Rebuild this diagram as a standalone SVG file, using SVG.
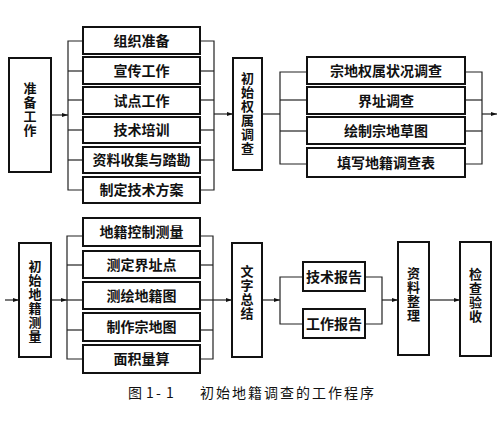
<svg xmlns="http://www.w3.org/2000/svg" width="503" height="426" viewBox="0 0 503 426">
<style>
.box{fill:#fff;stroke:#111;stroke-width:2}
.ln{fill:none;stroke:#222;stroke-width:1.2}
.t{font-family:"Noto Sans CJK SC","Noto Sans",sans-serif;font-size:14px;font-weight:bold;fill:#111;text-anchor:middle}
.v{font-family:"Noto Sans CJK SC","Noto Sans",sans-serif;font-size:13px;font-weight:bold;fill:#111;text-anchor:middle}
.cap{font-family:"Noto Sans CJK SC","Liberation Serif",serif;font-size:14px;fill:#111}
</style>
<defs>
<marker id="ah" viewBox="0 0 6 4" refX="6" refY="2" markerWidth="6" markerHeight="4" markerUnits="userSpaceOnUse" orient="auto">
<path d="M0,0 L6,2 L0,4 Z" fill="#111"/>
</marker>
</defs>
<rect width="503" height="426" fill="#fff"/>
<g id="connectors">
<line class="ln" x1="51" y1="115" x2="68" y2="115" marker-end="url(#ah)"/>
<polyline class="ln" points="83,41 68,41 68,190 83,190"/>
<line class="ln" x1="68" y1="71" x2="83" y2="71"/>
<line class="ln" x1="68" y1="100" x2="83" y2="100"/>
<line class="ln" x1="68" y1="130" x2="83" y2="130"/>
<line class="ln" x1="68" y1="160" x2="83" y2="160"/>
<polyline class="ln" points="200,41 214,41 214,190 200,190"/>
<line class="ln" x1="200" y1="71" x2="214" y2="71"/>
<line class="ln" x1="200" y1="100" x2="214" y2="100"/>
<line class="ln" x1="200" y1="130" x2="214" y2="130"/>
<line class="ln" x1="200" y1="160" x2="214" y2="160"/>
<line class="ln" x1="214" y1="114" x2="233" y2="114" marker-end="url(#ah)"/>
<line class="ln" x1="262" y1="114" x2="280" y2="114"/>
<polyline class="ln" points="307,72 280,72 280,164 307,164"/>
<line class="ln" x1="280" y1="100" x2="307" y2="100"/>
<line class="ln" x1="280" y1="131" x2="307" y2="131"/>
<polyline class="ln" points="465,72 482,72 482,164 465,164"/>
<line class="ln" x1="465" y1="100" x2="482" y2="100"/>
<line class="ln" x1="465" y1="131" x2="482" y2="131"/>
<line class="ln" x1="482" y1="114" x2="497" y2="114" marker-end="url(#ah)"/>
<line class="ln" x1="5" y1="300" x2="19" y2="300" marker-end="url(#ah)"/>
<line class="ln" x1="51" y1="300" x2="67" y2="300" marker-end="url(#ah)"/>
<polyline class="ln" points="83,236 67,236 67,359 83,359"/>
<line class="ln" x1="67" y1="265" x2="83" y2="265"/>
<line class="ln" x1="67" y1="300" x2="83" y2="300"/>
<line class="ln" x1="67" y1="330" x2="83" y2="330"/>
<polyline class="ln" points="200,236 213,236 213,359 200,359"/>
<line class="ln" x1="200" y1="265" x2="213" y2="265"/>
<line class="ln" x1="200" y1="300" x2="213" y2="300"/>
<line class="ln" x1="200" y1="330" x2="213" y2="330"/>
<line class="ln" x1="213" y1="300" x2="232" y2="300" marker-end="url(#ah)"/>
<line class="ln" x1="262" y1="300" x2="280" y2="300" marker-end="url(#ah)"/>
<polyline class="ln" points="303,277 280,277 280,324 303,324"/>
<polyline class="ln" points="365,277 382,277 382,324 365,324"/>
<line class="ln" x1="382" y1="300" x2="398" y2="300" marker-end="url(#ah)"/>
<line class="ln" x1="429" y1="300" x2="460" y2="300" marker-end="url(#ah)"/>
</g>
<g id="n-zhunbei"><rect class="box" x="9" y="58" width="42" height="114"/>
<text class="v" x="30" y="93"><tspan x="30">准</tspan><tspan x="30" dy="14">备</tspan><tspan x="30" dy="14">工</tspan><tspan x="30" dy="14">作</tspan></text></g>
<g id="n-zuzhi"><rect class="box" x="83" y="27" width="117" height="27"/><text class="t" x="141.5" y="45.5">组织准备</text></g>
<g id="n-xuanchuan"><rect class="box" x="83" y="57" width="117" height="27"/><text class="t" x="141.5" y="75.5">宣传工作</text></g>
<g id="n-shidian"><rect class="box" x="83" y="87" width="117" height="27"/><text class="t" x="141.5" y="105.5">试点工作</text></g>
<g id="n-peixun"><rect class="box" x="83" y="117" width="117" height="26"/><text class="t" x="141.5" y="135">技术培训</text></g>
<g id="n-ziliao"><rect class="box" x="83" y="147" width="117" height="26"/><text class="t" x="141.5" y="165">资料收集与踏勘</text></g>
<g id="n-fangan"><rect class="box" x="83" y="177" width="117" height="26"/><text class="t" x="141.5" y="195">制定技术方案</text></g>
<g id="n-quanshu"><rect class="box" x="233" y="58" width="29" height="112"/>
<text class="v" x="247.5" y="83"><tspan x="247.5">初</tspan><tspan x="247.5" dy="14">始</tspan><tspan x="247.5" dy="14">权</tspan><tspan x="247.5" dy="14">属</tspan><tspan x="247.5" dy="14">调</tspan><tspan x="247.5" dy="14">查</tspan></text></g>
<g id="n-zhuangkuang"><rect class="box" x="307" y="57" width="158" height="27"/><text class="t" x="386" y="75.5">宗地权属状况调查</text></g>
<g id="n-jiezhi"><rect class="box" x="307" y="87" width="158" height="27"/><text class="t" x="386" y="105.5">界址调查</text></g>
<g id="n-caotu"><rect class="box" x="307" y="117" width="158" height="27"/><text class="t" x="386" y="135.5">绘制宗地草图</text></g>
<g id="n-tianxie"><rect class="box" x="307" y="148" width="158" height="29"/><text class="t" x="386" y="167.5">填写地籍调查表</text></g>
<g id="n-celiang"><rect class="box" x="19" y="243" width="32" height="114"/>
<text class="v" x="35" y="271"><tspan x="35">初</tspan><tspan x="35" dy="14">始</tspan><tspan x="35" dy="14">地</tspan><tspan x="35" dy="14">籍</tspan><tspan x="35" dy="14">测</tspan><tspan x="35" dy="14">量</tspan></text></g>
<g id="n-kongzhi"><rect class="box" x="83" y="218" width="117" height="28"/><text class="t" x="141.5" y="237">地籍控制测量</text></g>
<g id="n-jiezhidian"><rect class="box" x="83" y="251" width="117" height="27"/><text class="t" x="141.5" y="269.5">测定界址点</text></g>
<g id="n-cehui"><rect class="box" x="83" y="282" width="117" height="27"/><text class="t" x="141.5" y="300.5">测绘地籍图</text></g>
<g id="n-zongditu"><rect class="box" x="83" y="313" width="117" height="28"/><text class="t" x="141.5" y="332">制作宗地图</text></g>
<g id="n-mianji"><rect class="box" x="83" y="345" width="117" height="28"/><text class="t" x="141.5" y="364">面积量算</text></g>
<g id="n-wenzi"><rect class="box" x="232" y="243" width="30" height="114"/>
<text class="v" x="247" y="276"><tspan x="247">文</tspan><tspan x="247" dy="14">字</tspan><tspan x="247" dy="14">总</tspan><tspan x="247" dy="14">结</tspan></text></g>
<g id="n-jishu"><rect class="box" x="303" y="262" width="62" height="29"/><text class="t" x="334" y="281.5">技术报告</text></g>
<g id="n-gongzuo"><rect class="box" x="303" y="309" width="62" height="29"/><text class="t" x="334" y="328.5">工作报告</text></g>
<g id="n-zhengli"><rect class="box" x="398" y="242" width="31" height="113"/>
<text class="v" x="413.5" y="278"><tspan x="413.5">资</tspan><tspan x="413.5" dy="14">料</tspan><tspan x="413.5" dy="14">整</tspan><tspan x="413.5" dy="14">理</tspan></text></g>
<g id="n-yanshou"><rect class="box" x="460" y="242" width="31" height="114"/>
<text class="v" x="475.5" y="279"><tspan x="475.5">检</tspan><tspan x="475.5" dy="14">查</tspan><tspan x="475.5" dy="14">验</tspan><tspan x="475.5" dy="14">收</tspan></text></g>
<text class="cap" x="128" y="398">图<tspan x="146">1</tspan><tspan x="156">-</tspan><tspan x="166">1</tspan></text>
<text class="cap" x="200" y="398" letter-spacing="2">初始地籍调查的工作程序</text>
</svg>
